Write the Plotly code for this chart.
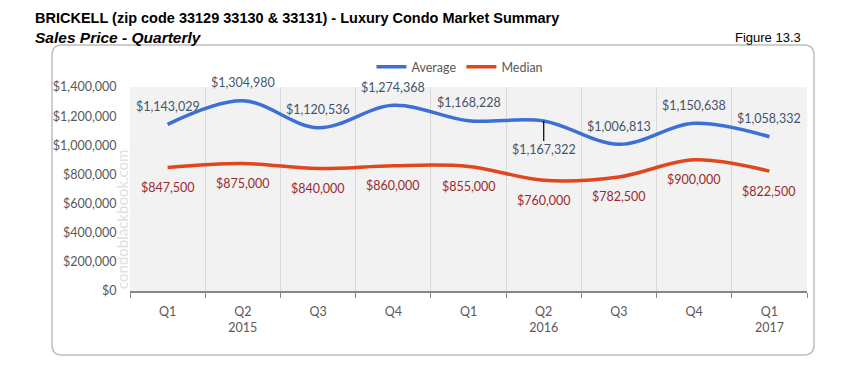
import plotly.graph_objects as go

# ---- data ----
quarters = ["Q1", "Q2", "Q3", "Q4", "Q1", "Q2", "Q3", "Q4", "Q1"]
years = ["", "2015", "", "", "", "2016", "", "", "2017"]
average = [1143029, 1304980, 1120536, 1274368, 1168228, 1167322, 1006813, 1150638, 1058332]
median = [847500, 875000, 840000, 860000, 855000, 760000, 782500, 900000, 822500]
avg_label_below = [False, False, False, False, False, True, False, False, False]

# ---- layout geometry (pixels) ----
W, H = 853, 375
L, R, T, B = 130, 807, 87, 291
PW, PH = R - L, B - T


def px_x(p):
    return (p - L) / PW


def px_y(p):
    return (B - p) / PH


xs = list(range(len(quarters)))
ticktext = [q + ("<br>" + y if y else "") for q, y in zip(quarters, years)]

BLUE = "#3D6FD6"
RED = "#E2461D"
BLUE_LBL = "#44546A"
RED_LBL = "#9C2A2C"
AXIS_TXT = "#595959"
FONT = "Lato, Calibri, Carlito, sans-serif"

fig = go.Figure()
fig.add_trace(go.Scatter(x=xs, y=average, name="Average", mode="lines",
                         line=dict(color=BLUE, width=3.5, shape="spline", smoothing=1),
                         hoverinfo="skip"))
fig.add_trace(go.Scatter(x=xs, y=median, name="Median", mode="lines",
                         line=dict(color=RED, width=3.5, shape="spline", smoothing=1),
                         hoverinfo="skip"))

annotations = []
for x, v, below in zip(xs, average, avg_label_below):
    txt = "${:,}".format(v)
    if below:
        annotations.append(dict(x=x, y=v, xref="x", yref="y", text=txt, showarrow=True,
                                arrowhead=0, arrowwidth=1.2, arrowcolor="#000000",
                                ax=0, ay=29, standoff=0,
                                font=dict(family=FONT, size=12.5, color=BLUE_LBL)))
    else:
        annotations.append(dict(x=x, y=v, xref="x", yref="y", text=txt, showarrow=False,
                                yshift=18, font=dict(family=FONT, size=12.5, color=BLUE_LBL)))
for x, v in zip(xs, median):
    annotations.append(dict(x=x, y=v, xref="x", yref="y", text="${:,}".format(v),
                            showarrow=False, yshift=-20,
                            font=dict(family=FONT, size=12.5, color=RED_LBL)))

TFONT = "'Liberation Sans Narrow', 'Arial Narrow', 'Liberation Sans', Arial, sans-serif"
annotations += [
    dict(xref="paper", yref="paper", x=px_x(33), y=px_y(18), xanchor="left", yanchor="middle",
         text="<b>BRICKELL (zip code 33129 33130 &amp; 33131) - Luxury Condo Market Summary</b>",
         showarrow=False, font=dict(family=TFONT, size=14.5, color="#000000")),
    dict(xref="paper", yref="paper", x=px_x(33), y=px_y(37), xanchor="left", yanchor="middle",
         text="<b><i>Sales Price - Quarterly</i></b>",
         showarrow=False, font=dict(family=TFONT, size=15.5, color="#000000")),
    dict(xref="paper", yref="paper", x=px_x(803), y=px_y(37), xanchor="right", yanchor="middle",
         text="Figure 13.3",
         showarrow=False, font=dict(family=TFONT, size=13, color="#000000")),
    dict(xref="paper", yref="paper", x=px_x(122), y=px_y(220), xanchor="center", yanchor="middle",
         text="condoblackbook.com", textangle=-90,
         showarrow=False, font=dict(family=FONT, size=15, color="#E0E0E0")),
]

# rounded outer frame
x0, x1 = px_x(52), px_x(814)
y0, y1 = px_y(355), px_y(45)
rx, ry = 10 / PW, 10 / PH
path = (f"M {x0+rx},{y1} L {x1-rx},{y1} Q {x1},{y1} {x1},{y1-ry} "
        f"L {x1},{y0+ry} Q {x1},{y0} {x1-rx},{y0} "
        f"L {x0+rx},{y0} Q {x0},{y0} {x0},{y0+ry} "
        f"L {x0},{y1-ry} Q {x0},{y1} {x0+rx},{y1} Z")
shapes = [dict(type="path", xref="paper", yref="paper", path=path,
               line=dict(color="#BFBFBF", width=1.5), fillcolor="rgba(0,0,0,0)", layer="below")]

fig.update_layout(
    width=W, height=H,
    margin=dict(l=L, r=W - R, t=T, b=H - B, pad=0),
    paper_bgcolor="#FFFFFF",
    plot_bgcolor="#F2F2F2",
    showlegend=True,
    legend=dict(orientation="h", x=px_x(460), y=px_y(67), xanchor="center", yanchor="middle",
                font=dict(family=FONT, size=12.5, color=AXIS_TXT), bgcolor="rgba(0,0,0,0)",
                itemwidth=30, tracegroupgap=0),
    annotations=annotations,
    shapes=shapes,
    xaxis=dict(range=[-0.5, len(xs) - 0.5], tickmode="array", tickvals=xs, ticktext=ticktext,
               showgrid=False, zeroline=False, showline=True, linecolor="#868686", linewidth=1.5,
               ticks="outside", ticklen=8, tickcolor="rgba(0,0,0,0)",
               tickfont=dict(family=FONT, size=12.5, color=AXIS_TXT),
               minor=dict(tickmode="linear", tick0=-0.5, dtick=1, showgrid=True,
                          gridcolor="#D9D9D9", gridwidth=1, ticks="outside", ticklen=5,
                          tickcolor="#868686"),
               fixedrange=True),
    yaxis=dict(range=[0, 1400000], dtick=200000, tickformat="$,", showgrid=False,
               zeroline=False, showline=False, ticks="outside", ticklen=10,
               tickcolor="rgba(0,0,0,0)",
               tickfont=dict(family=FONT, size=12.5, color=AXIS_TXT), fixedrange=True),
)

fig.write_html("out.html", config={"displayModeBar": False},
               post_script="document.body.style.margin='0';")
